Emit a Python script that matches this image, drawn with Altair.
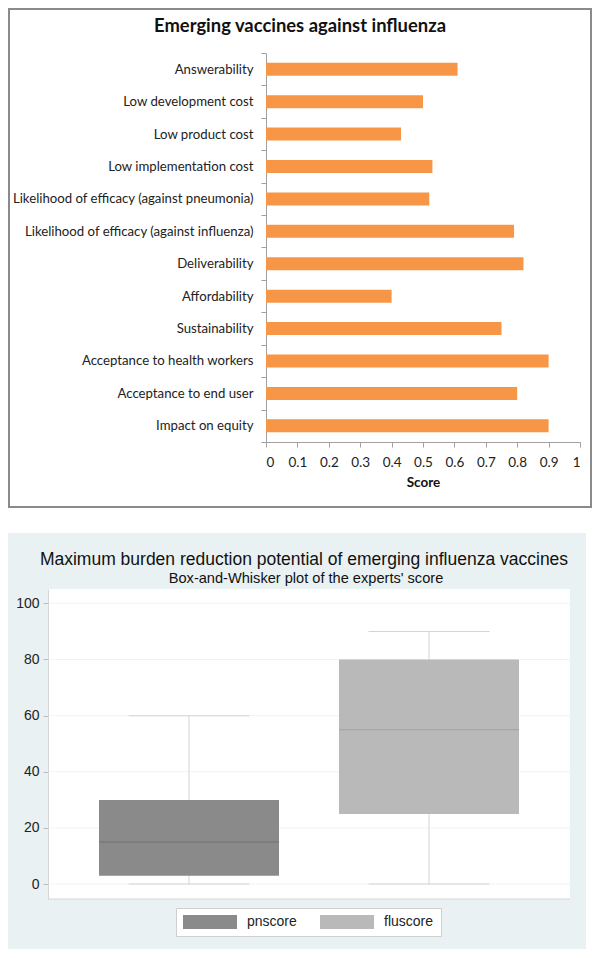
import altair as alt
import pandas as pd

# ---------------- data: top panel ----------------
criteria = [
    "Answerability", "Low development cost", "Low product cost",
    "Low implementation cost", "Likelihood of efficacy (against pneumonia)",
    "Likelihood of efficacy (against influenza)", "Deliverability",
    "Affordability", "Sustainability", "Acceptance to health workers",
    "Acceptance to end user", "Impact on equity",
]
scores = [0.61, 0.50, 0.43, 0.53, 0.52, 0.79, 0.82, 0.40, 0.75, 0.90, 0.80, 0.90]
score_ticks = [0, 0.1, 0.2, 0.3, 0.4, 0.5, 0.6, 0.7, 0.8, 0.9, 1]

# ---------------- data: bottom panel ----------------
groups = ["pnscore", "fluscore"]
whisker_low = [0, 0]
quart1 = [3, 25]
medians = [15, 55]
quart3 = [30, 80]
whisker_high = [60, 90]
box_colors = ["#8a8a8a", "#b9b9b9"]
median_colors = ["#707070", "#a2a2a2"]
burden_ticks = [0, 20, 40, 60, 80, 100]

bars_df = pd.DataFrame({"criterion": criteria, "score": scores})
box_df = pd.DataFrame({
    "group": groups, "lo": whisker_low, "q1": quart1, "med": medians,
    "q3": quart3, "hi": whisker_high, "medcol": median_colors,
})
grid_df = pd.DataFrame({"v": burden_ticks})
one = alt.Data(values=[{}])

# ---------------- top chart ----------------
TW, TH = 314, 389
top_border = alt.Chart(one).mark_rect(
    fillOpacity=0, stroke="#8a8a8a", strokeWidth=2
).encode(x=alt.value(-257), x2=alt.value(325), y=alt.value(-44), y2=alt.value(454))
top_title = alt.Chart(one).mark_text(
    font="Lato", fontSize=18.4, fontWeight="bold", color="#111",
    align="center", baseline="middle"
).encode(x=alt.value(34), y=alt.value(-27),
         text=alt.value("Emerging vaccines against influenza"))
top_bars = alt.Chart(bars_df).mark_bar(color="#F79646", size=13).encode(
    x=alt.X("score:Q", scale=alt.Scale(domain=[0, 1], nice=False, zero=True),
            axis=alt.Axis(values=score_ticks, format="~g", title="Score",
                          grid=False, tickSize=5, tickColor="#a0a0a0",
                          domainColor="#a0a0a0", labelFont="Lato",
                          labelFontSize=13.5, labelColor="#222",
                          labelPadding=8, titleFont="Lato",
                          titleFontSize=13.5, titleFontWeight="bold",
                          titleColor="#111", titlePadding=7)),
    y=alt.Y("criterion:N", sort=criteria,
            scale=alt.Scale(paddingInner=0, paddingOuter=0),
            axis=alt.Axis(title=None, tickBand="extent", tickSize=5,
                          tickColor="#a0a0a0", domainColor="#a0a0a0",
                          labelFont="Lato", labelFontSize=13.2,
                          labelColor="#222", labelPadding=8, labelLimit=400)),
)
top = alt.layer(top_border, top_title, top_bars).properties(width=TW, height=TH)

# ---------------- bottom chart ----------------
# concat aligns the plot origins, so the bottom plot is drawn S px to the left
S = 218
BW, BH = 522, 310
ydom = [-5.3, 105.1]
blue_bg = alt.Chart(one).mark_rect(color="#e9f1f3").encode(
    x=alt.value(-40 - S), x2=alt.value(538 - S), y=alt.value(-56), y2=alt.value(360))
white_bg = alt.Chart(one).mark_rect(color="white").encode(
    x=alt.value(-S), x2=alt.value(BW - S), y=alt.value(0), y2=alt.value(BH))
bottom_line = alt.Chart(one).mark_rule(color="#d6d6d6").encode(
    x=alt.value(-S), x2=alt.value(BW - S), y=alt.value(BH))
bt_title = alt.Chart(one).mark_text(
    font="Liberation Sans", fontSize=17.5, color="#111", align="center", baseline="middle"
).encode(x=alt.value(256 - S), y=alt.value(-29),
         text=alt.value("Maximum burden reduction potential of emerging influenza vaccines"))
bt_sub = alt.Chart(one).mark_text(
    font="Liberation Sans", fontSize=14.6, color="#111", align="center", baseline="middle"
).encode(x=alt.value(258 - S), y=alt.value(-10),
         text=alt.value("Box-and-Whisker plot of the experts' score"))
yscale = alt.Scale(domain=ydom, nice=False, zero=False)
xscale = alt.Scale(domain=groups, paddingInner=0.25, paddingOuter=0.2125,
                   range=[-S, BW - S])
grid = alt.Chart(grid_df).mark_rule(color="#f3f3f3").encode(
    x=alt.value(-S), x2=alt.value(BW - S),
    y=alt.Y("v:Q", scale=yscale,
            axis=alt.Axis(values=burden_ticks, title=None, grid=False,
                          labelFont="Liberation Sans", labelFontSize=14,
                          labelColor="#222", tickColor="#bdbdbd", tickSize=5,
                          domainColor="#d6d6d6", labelPadding=4, zindex=1,
                          offset=S)))
base = alt.Chart(box_df).encode(
    x=alt.X("group:N", sort=groups, scale=xscale, axis=None))
whisk = base.mark_rule(color="#d4d4d4", opacity=1).encode(
    y=alt.Y("lo:Q", scale=yscale), y2="hi:Q")
cap_lo = base.mark_tick(color="#d4d4d4", size=121, thickness=1, opacity=1).encode(
    y=alt.Y("lo:Q", scale=yscale))
cap_hi = base.mark_tick(color="#d4d4d4", size=121, thickness=1, opacity=1).encode(
    y=alt.Y("hi:Q", scale=yscale))
boxes = base.mark_bar(size=180, opacity=1).encode(
    y=alt.Y("q1:Q", scale=yscale), y2="q3:Q",
    color=alt.Color("group:N", sort=groups,
                    scale=alt.Scale(domain=groups, range=box_colors),
                    legend=alt.Legend(
                        title=None, orient="none", direction="horizontal",
                        legendX=128 - S, legendY=319, padding=7,
                        fillColor="white", strokeColor="#cfcfcf",
                        symbolType="M-3.86,-1H3.86V1H-3.86Z", symbolSize=196,
                        symbolOffset=20,
                        symbolStrokeWidth=0, symbolOpacity=1,
                        labelFont="Liberation Sans", labelFontSize=14,
                        labelColor="#222", labelOffset=30,
                        columnPadding=22, labelLimit=200)))
med = base.mark_tick(size=180, thickness=1, opacity=1).encode(
    y=alt.Y("med:Q", scale=yscale), color=alt.Color("medcol:N", scale=None))
bottom = alt.layer(
    blue_bg, white_bg, bt_title, bt_sub, grid, bottom_line,
    whisk, cap_lo, cap_hi, boxes, med
).properties(width=BW - S, height=BH)

chart = alt.vconcat(top, bottom, spacing=25).resolve_scale(
    color="independent").resolve_legend(color="independent").properties(
    padding=0, background="white").configure_view(stroke=None)

chart.save("out.html", embed_options={"renderer": "svg", "actions": False})
